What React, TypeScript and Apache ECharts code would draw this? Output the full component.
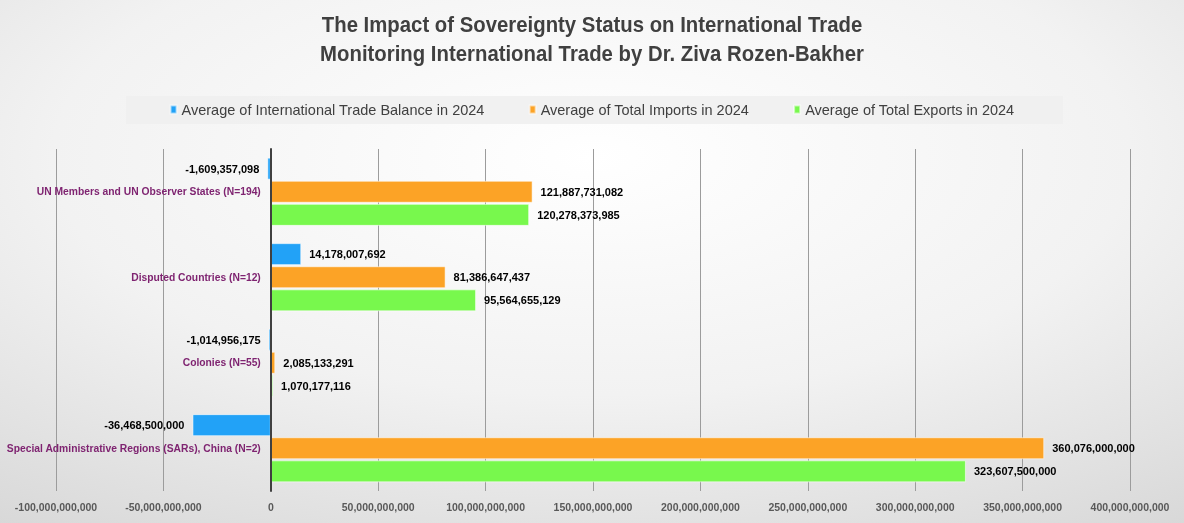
import React, { useEffect, useRef } from "react";
import * as echarts from "echarts";

const titleLines = [
  "The Impact of Sovereignty Status on International Trade",
  "Monitoring International Trade by Dr. Ziva Rozen-Bakher",
];
const categories = [
  "UN Members and UN Observer States (N=194)",
  "Disputed Countries (N=12)",
  "Colonies (N=55)",
  "Special Administrative Regions (SARs), China (N=2)",
];
const seriesNames = [
  "Average of International Trade Balance in 2024",
  "Average of Total Imports in 2024",
  "Average of Total Exports in 2024",
];
const balance = [-1609357098, 14178007692, -1014956175, -36468500000];
const imports = [121887731082, 81386647437, 2085133291, 360076000000];
const exportsArr = [120278373985, 95564655129, 1070177116, 323607500000];
const axisMin = -100000000000;
const axisMax = 400000000000;
const axisStep = 50000000000;

const colors = ["#22A2F7", "#FCA326", "#78F84D"];
const SANS = "'Liberation Sans', Arial, sans-serif";

const GRID_LEFT = 56;
const GRID_RIGHT = 54;
const CHART_W = 1184;

const fmt = (v: number) => Math.round(v).toLocaleString("en-US");

function makeSeries(name: string, values: number[], color: string) {
  return {
    name,
    type: "bar",
    barWidth: 22,
    barGap: "5%",
    barCategoryGap: "18%",
    itemStyle: { color, borderColor: "rgba(255,255,255,0.55)", borderWidth: 1 },
    label: {
      show: true,
      distance: 8,
      color: "#000",
      fontFamily: SANS,
      fontWeight: "bold",
      fontSize: 11,
      formatter: (p: any) => fmt(p.value),
    },
    data: values.map((v) => ({
      value: v,
      label: { position: v < 0 ? "left" : "right" },
    })),
  };
}

export default function App() {
  const ref = useRef<HTMLDivElement>(null);
  useEffect(() => {
    if (!ref.current) return;
    const chart = echarts.init(ref.current, null, { renderer: "svg" });
    const plotW = CHART_W - GRID_LEFT - GRID_RIGHT;
    const zeroOffset = (-axisMin / (axisMax - axisMin)) * plotW;
    chart.setOption({
      animation: false,
      backgroundColor: new echarts.graphic.RadialGradient(0.5, 0.3, 1.3, [
        { offset: 0, color: "#ffffff" },
        { offset: 0.35, color: "#f2f2f2" },
        { offset: 1, color: "#bcbcbc" },
      ]),
      graphic: [
        {
          type: "rect",
          shape: { x: 126, y: 96, width: 937, height: 28 },
          style: { fill: "rgba(240,240,240,0.9)" },
          z: -1,
        },
        ...titleLines.map((t, i) => ({
          type: "text",
          x: 592,
          y: 24 + i * 29,
          scaleX: 0.925,
          style: {
            text: t,
            fill: "#404040",
            font: `bold 22px ${SANS}`,
            textAlign: "center",
            textVerticalAlign: "middle",
          },
        })),
      ],
      legend: {
        top: 97,
        left: "center",
        icon: "rect",
        itemWidth: 6,
        itemHeight: 8,
        itemGap: 44,
        textStyle: { fontFamily: SANS, fontSize: 14.5, color: "#404040" },
        data: seriesNames,
      },
      grid: {
        left: GRID_LEFT,
        right: GRID_RIGHT,
        top: 149,
        bottom: 32,
        containLabel: false,
        outerBoundsMode: "none",
      },
      xAxis: {
        type: "value",
        min: axisMin,
        max: axisMax,
        interval: axisStep,
        axisLine: { show: false },
        axisTick: { show: false },
        splitLine: { show: true, lineStyle: { color: "#9c9c9c", width: 1 } },
        axisLabel: {
          margin: 10,
          color: "#595959",
          fontFamily: SANS,
          fontWeight: "bold",
          fontSize: 10.5,
          formatter: (v: number) => fmt(v),
        },
      },
      yAxis: {
        type: "category",
        inverse: true,
        data: categories,
        z: 5,
        offset: -zeroOffset,
        axisLine: { show: true, onZero: false, lineStyle: { color: "#404040", width: 2 } },
        axisTick: { show: false },
        axisLabel: {
          margin: 10,
          color: "#7F2471",
          fontFamily: SANS,
          fontWeight: "bold",
          fontSize: 10.3,
        },
      },
      series: [
        makeSeries(seriesNames[0], balance, colors[0]),
        makeSeries(seriesNames[1], imports, colors[1]),
        makeSeries(seriesNames[2], exportsArr, colors[2]),
      ],
    });
    return () => chart.dispose();
  }, []);
  return (
    <div
      ref={ref}
      style={{ position: "fixed", left: 0, top: 0, width: 1184, height: 523 }}
    />
  );
}
